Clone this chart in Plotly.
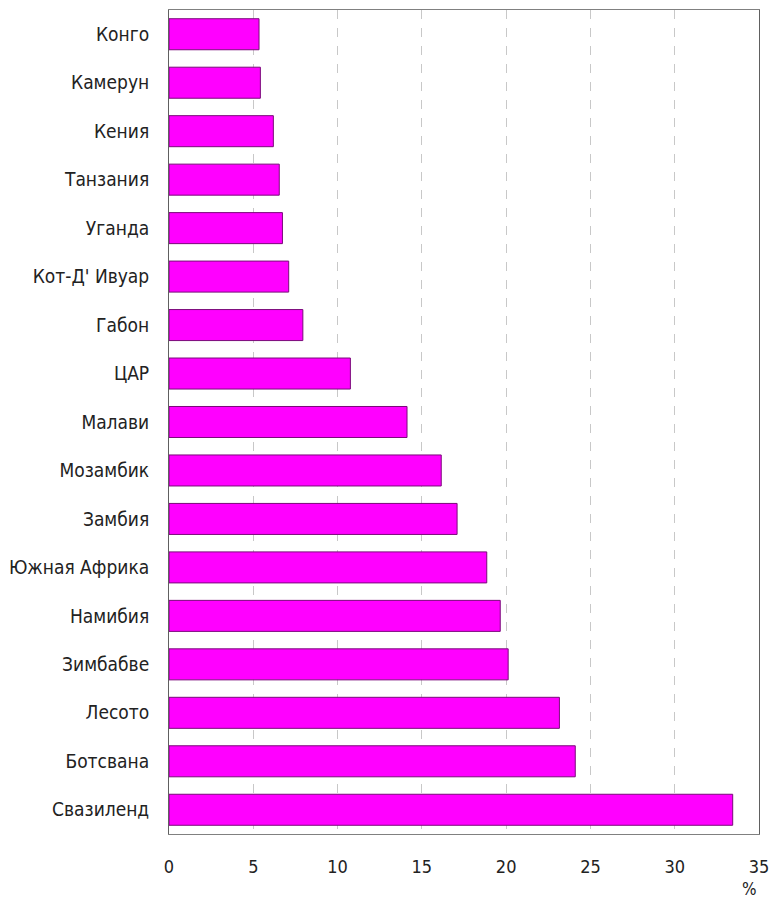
import plotly.graph_objects as go

countries = ["Конго", "Камерун", "Кения", "Танзания", "Уганда", "Кот-Д' Ивуар",
             "Габон", "ЦАР", "Малави", "Мозамбик", "Замбия", "Южная Африка",
             "Намибия", "Зимбабве", "Лесото", "Ботсвана", "Свазиленд"]
values = [5.34, 5.42, 6.19, 6.54, 6.73, 7.1, 7.94, 10.76, 14.12, 16.15, 17.09,
          18.85, 19.65, 20.12, 23.16, 24.1, 33.44]
x_ticks = [0, 5, 10, 15, 20, 25, 30, 35]

FONT = "DejaVu Sans Condensed, Liberation Sans Narrow, sans-serif"
TXT = "#222222"

fig = go.Figure(go.Bar(
    y=countries, x=values, orientation="h",
    marker=dict(color="#FF00FF", line=dict(color="#7A0A7A", width=1)),
    width=0.64,
))

fig.update_layout(
    width=778, height=901,
    margin=dict(l=168, r=14, t=9, b=67),
    paper_bgcolor="white", plot_bgcolor="white",
    showlegend=False,
    font=dict(family=FONT, size=18, color=TXT),
    xaxis=dict(range=[0, 35], tickvals=x_ticks, ticktext=[str(t) for t in x_ticks],
               showgrid=True, gridcolor="#C8C8C8", griddash="dash", gridwidth=1,
               zeroline=False, showline=True, linecolor="#808080", linewidth=1,
               mirror=True, ticks="", ticklabelstandoff=16,
               tickfont=dict(family=FONT, size=18, color=TXT)),
    yaxis=dict(autorange="reversed", showgrid=False, zeroline=False,
               showline=True, linecolor="#606060", linewidth=1, mirror=True,
               ticks="", ticklabelstandoff=15,
               tickfont=dict(family=FONT, size=19, color=TXT)),
    annotations=[dict(text="%", x=35, y=-0.067, xref="x", yref="paper",
                      showarrow=False, xanchor="right", yanchor="middle",
                      font=dict(family=FONT, size=17, color=TXT))],
)

fig.write_html("out.html",
               config={"displayModeBar": False, "responsive": False},
               post_script="document.body.style.margin='0';document.body.style.overflow='hidden';")
